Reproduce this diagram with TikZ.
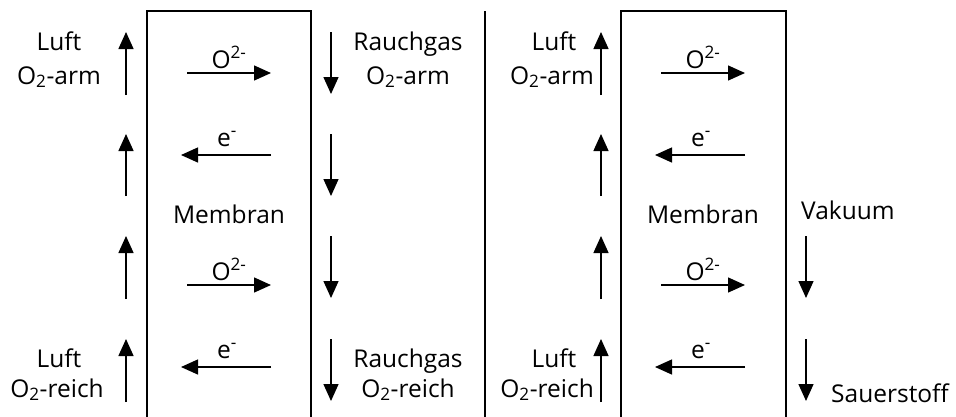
\documentclass[tikz,border=0pt]{standalone}
\usepackage{fontspec}
\setmainfont{Open Sans}
\usetikzlibrary{arrows.meta}
\tikzset{
  lbl/.style={font=\fontsize{24.5}{29}\selectfont, inner sep=0pt, anchor=base},
  flow/.style={line width=1.4pt, -{Triangle[width=15pt,length=17pt]}},
  wall/.style={line width=1.5pt},
}
\begin{document}
\begin{tikzpicture}[x=1pt,y=-1pt]
\useasboundingbox (0,0) rectangle (956,416);
% boxes
\draw[wall] (147,418) -- (147,11) -- (311,11) -- (311,418);
\draw[wall] (485,11) -- (485,418);
\draw[wall] (621,418) -- (621,11) -- (786,11) -- (786,418);
% up arrows (both panels)
\foreach \i/\a/\b in {1/95/32, 2/196/134, 3/299/236, 4/402/339}{
  \coordinate (lu\i s) at (126,\a); \coordinate (lu\i e) at (126,\b);
  \draw[flow] (lu\i s) -- (lu\i e);
  \coordinate (ru\i s) at (601,\a); \coordinate (ru\i e) at (601,\b);
  \draw[flow] (ru\i s) -- (ru\i e);
}
% down arrows, left panel
\foreach \i/\a/\b in {1/32/94, 2/134/196, 3/236/298, 4/339/401}{
  \coordinate (ld\i s) at (331,\a); \coordinate (ld\i e) at (331,\b);
  \draw[flow] (ld\i s) -- (ld\i e);
}
% down arrows, right panel
\foreach \i/\a/\b in {3/236/298, 4/339/401}{
  \coordinate (rd\i s) at (806,\a); \coordinate (rd\i e) at (806,\b);
  \draw[flow] (rd\i s) -- (rd\i e);
}
% horizontal arrows and membrane labels
\foreach \p/\dx in {l/0, r/474}{
  \coordinate (\p o1s) at (187+\dx,73);  \coordinate (\p o1e) at (271+\dx,73);
  \coordinate (\p e1s) at (271+\dx,155); \coordinate (\p e1e) at (181+\dx,155);
  \coordinate (\p o2s) at (187+\dx,285); \coordinate (\p o2e) at (271+\dx,285);
  \coordinate (\p e2s) at (271+\dx,367); \coordinate (\p e2e) at (181+\dx,367);
  \draw[flow] (\p o1s) -- (\p o1e);
  \draw[flow] (\p e1s) -- (\p e1e);
  \draw[flow] (\p o2s) -- (\p o2e);
  \draw[flow] (\p e2s) -- (\p e2e);
  \node[lbl] (\p o1t) at (229+\dx,68) {O\textsuperscript{2-}};
  \node[lbl] (\p e1t) at (227+\dx,146) {e\textsuperscript{-}};
  \node[lbl] (\p o2t) at (229+\dx,280) {O\textsuperscript{2-}};
  \node[lbl] (\p e2t) at (227+\dx,358) {e\textsuperscript{-}};
  \node[lbl] (\p mem) at (229+\dx,223) {Membran};
}
% side labels
\node[lbl] (l1) at (59,50) {Luft};
\node[lbl] (l2) at (59,84) {O\textsubscript{2}-arm};
\node[lbl] (l3) at (59,367) {Luft};
\node[lbl] (l4) at (57,397) {O\textsubscript{2}-reich};
\node[lbl] (r1) at (408,50) {Rauchgas};
\node[lbl] (r2) at (408,84) {O\textsubscript{2}-arm};
\node[lbl] (r3) at (408,367) {Rauchgas};
\node[lbl] (r4) at (408,397) {O\textsubscript{2}-reich};
\node[lbl] (m1) at (554,50) {Luft};
\node[lbl, anchor=base east] (m2) at (594,84) {O\textsubscript{2}-arm};
\node[lbl] (m3) at (554,367) {Luft};
\node[lbl, anchor=base east] (m4) at (594,397) {O\textsubscript{2}-reich};
\node[lbl, anchor=base west] (v) at (801,219) {Vakuum};
\node[lbl, anchor=base west] (s) at (831,402) {Sauerstoff};
\end{tikzpicture}
\end{document}
